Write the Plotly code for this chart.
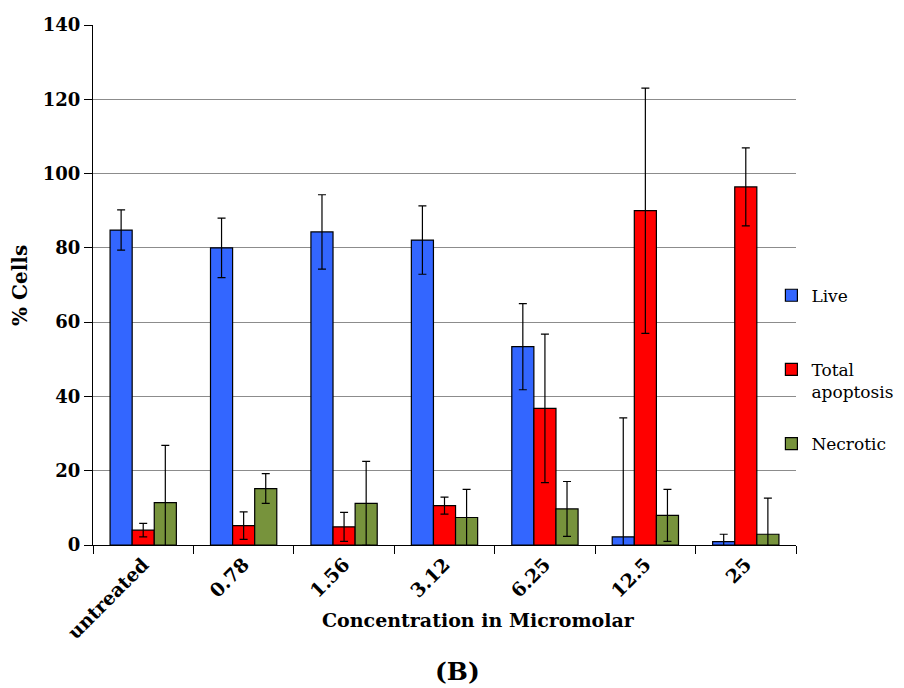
import plotly.graph_objects as go

categories = ["untreated", "0.78", "1.56", "3.12", "6.25", "12.5", "25"]

live = [84.8, 80.0, 84.3, 82.1, 53.4, 2.2, 0.9]
live_err = [5.4, 8.0, 10.0, 9.2, 11.6, 32.0, 2.0]

apoptosis = [4.0, 5.2, 4.9, 10.6, 36.8, 90.0, 96.4]
apoptosis_err = [1.8, 3.7, 3.9, 2.3, 20.0, 33.0, 10.5]

necrotic = [11.4, 15.2, 11.2, 7.4, 9.7, 8.0, 2.9]
necrotic_err = [15.4, 4.0, 11.3, 7.6, 7.4, 7.0, 9.7]

series = [
    ("Live<br>&nbsp;", live, live_err, "#3366FF", "g1"),
    ("Total<br>apoptosis", apoptosis, apoptosis_err, "#FF0000", "g2"),
    ("Necrotic<br>&nbsp;", necrotic, necrotic_err, "#77933C", "g3"),
]

SERIF = "DejaVu Serif"

fig = go.Figure()
for name, vals, errs, color, grp in series:
    fig.add_trace(go.Bar(
        x=categories, y=vals, name=name, legendgroup=grp,
        marker=dict(color=color, line=dict(color="black", width=1.2)),
        error_y=dict(type="data", array=errs, visible=True,
                     color="black", thickness=1.2, width=4),
    ))

fig.update_layout(
    width=904, height=688,
    margin=dict(l=93, r=108, t=25, b=143, autoexpand=False),
    paper_bgcolor="white", plot_bgcolor="white",
    barmode="group", bargap=0.34, bargroupgap=0,
    font=dict(family=SERIF, color="black"),
    legend=dict(x=0.965, xanchor="left", y=0.514, yanchor="top",
                font=dict(family=SERIF, size=17, color="black"),
                tracegroupgap=27, valign="top",
                bgcolor="rgba(0,0,0,0)"),
    xaxis=dict(
        type="category", tickson="boundaries", ticks="outside", ticklen=8,
        tickcolor="black", showline=True, linecolor="black", linewidth=1,
        tickangle=-45, tickfont=dict(family=SERIF, size=19, color="black",
                                     weight="bold"),
        showgrid=False,
    ),
    yaxis=dict(
        range=[0, 140], dtick=20, ticks="outside", ticklen=8,
        tickcolor="black", showline=True, linecolor="black", linewidth=1,
        showgrid=True, gridcolor="#8c8c8c", gridwidth=1, zeroline=False,
        tickfont=dict(family=SERIF, size=18, color="black", weight="bold"),
    ),
    annotations=[
        dict(text="<b>% Cells</b>", xref="paper", yref="paper",
             x=-0.104, y=0.5, textangle=-90, showarrow=False,
             xanchor="center", yanchor="middle",
             font=dict(family=SERIF, size=20, color="black")),
        dict(text="<b>Concentration in Micromolar</b>", xref="paper",
             yref="paper", x=0.549, y=-0.144, showarrow=False,
             xanchor="center", yanchor="middle",
             font=dict(family=SERIF, size=19, color="black")),
        dict(text="<b>(B)</b>", xref="paper", yref="paper",
             x=0.519, y=-0.244, showarrow=False,
             xanchor="center", yanchor="middle",
             font=dict(family=SERIF, size=25, color="black")),
    ],
)

fig.write_html("out.html")
